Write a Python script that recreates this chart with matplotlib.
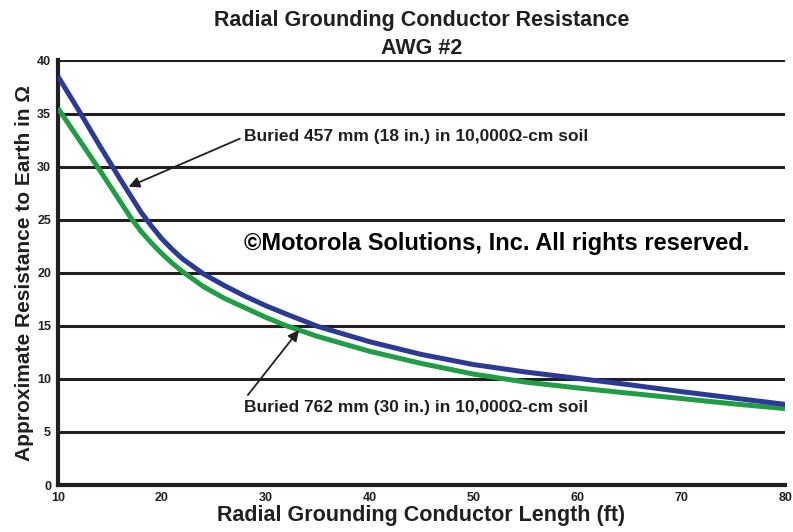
import matplotlib.pyplot as plt
import numpy as np

plt.rcParams['font.family'] = ['Liberation Sans', 'DejaVu Sans']

# Radial length (ft) and resistance (ohm)
length_ft = [10, 12, 14, 16, 17, 18, 19, 20, 21, 22, 24, 26, 28, 30, 32, 35,
             40, 45, 50, 55, 60, 65, 70, 75, 80]
r_457mm = [38.5, 35.3, 32.0, 28.8, 27.25, 25.7, 24.4, 23.2, 22.2, 21.3, 19.9, 18.8,
           17.8, 16.9, 16.1, 14.95, 13.5, 12.3, 11.35, 10.65, 10.05, 9.45, 8.8, 8.2, 7.6]
r_762mm = [35.5, 32.6, 29.7, 26.7, 25.2, 23.9, 22.8, 21.8, 20.9, 20.1, 18.7, 17.6,
           16.7, 15.8, 15.0, 14.0, 12.6, 11.45, 10.45, 9.7, 9.15, 8.65, 8.15, 7.65, 7.2]

x_ticks = [10, 20, 30, 40, 50, 60, 70, 80]
y_ticks = [0, 5, 10, 15, 20, 25, 30, 35, 40]

txt_dark = '#231f20'
blue = '#2b3a94'
green = '#1f9e45'

fig = plt.figure(figsize=(7.93, 5.32), dpi=100)
ax = fig.add_axes([0.0731, 0.0883, 0.917, 0.798])

for yv in y_ticks[1:]:
    ax.axhline(yv, color=txt_dark, linewidth=2.2, zorder=1)

ax.plot(length_ft, r_762mm, color=green, linewidth=3.6, solid_capstyle='butt',
        solid_joinstyle='round', zorder=3)
ax.plot(length_ft, r_457mm, color=blue, linewidth=3.6, solid_capstyle='butt',
        solid_joinstyle='round', zorder=3)

ax.set_xlim(10, 80)
ax.set_ylim(0, 40)
ax.set_xticks(x_ticks)
ax.set_yticks(y_ticks)
ax.tick_params(length=0, labelsize=9, colors=txt_dark, pad=5)
for lab in ax.get_xticklabels() + ax.get_yticklabels():
    lab.set_fontweight('bold')

for s in ['top', 'right']:
    ax.spines[s].set_visible(False)
for s in ['left', 'bottom']:
    ax.spines[s].set_linewidth(3)
    ax.spines[s].set_color(txt_dark)

ax.set_title('Radial Grounding Conductor Resistance\nAWG #2', fontsize=15.5,
             fontweight='bold', color=txt_dark, pad=5, linespacing=1.4)
ax.set_xlabel('Radial Grounding Conductor Length (ft)', fontsize=15.5,
              fontweight='bold', color=txt_dark, labelpad=1)
ax.set_ylabel('Approximate Resistance to Earth in Ω', fontsize=15,
              fontweight='bold', color=txt_dark, labelpad=2)

# annotations
ax.annotate('Buried 457 mm (18 in.) in 10,000Ω-cm soil', xy=(16.8, 28.1), xytext=(27.9, 32.8),
            fontsize=12.5, fontweight='bold', color=txt_dark, va='center', ha='left',
            arrowprops=dict(arrowstyle='-|>', color=txt_dark, lw=1.3, mutation_scale=16,
                            relpos=(0, 0.5), shrinkA=1, shrinkB=0))
ax.annotate('Buried 762 mm (30 in.) in 10,000Ω-cm soil', xy=(33.2, 14.6), xytext=(27.9, 7.3),
            fontsize=12.5, fontweight='bold', color=txt_dark, va='center', ha='left',
            arrowprops=dict(arrowstyle='-|>', color=txt_dark, lw=1.3, mutation_scale=16,
                            relpos=(0, 1), shrinkA=2, shrinkB=0))
ax.text(27.9, 22.8, '©Motorola Solutions, Inc. All rights reserved.', fontsize=17,
        fontweight='bold', color='black', va='center', ha='left', zorder=5)

fig.savefig('out.png', dpi=100)
